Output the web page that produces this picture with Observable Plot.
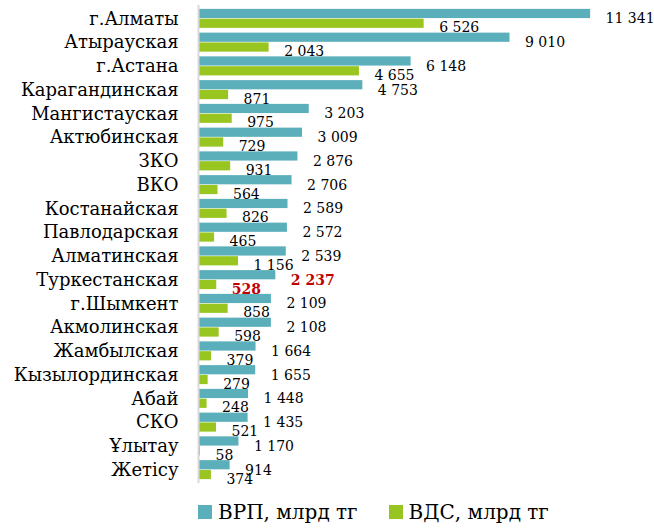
<!DOCTYPE html>
<html>
<head>
<meta charset="utf-8">
<script src="https://cdn.jsdelivr.net/npm/d3@7"></script>
<script src="https://cdn.jsdelivr.net/npm/@observablehq/plot@0.6"></script>
<style>
  html, body { margin: 0; padding: 0; background: #fff; }
  #chart { width: 654px; }
  .legend { display: flex; align-items: center; height: 33px; font-family: "DejaVu Serif", serif; font-size: 20px; color: #000; padding-left: 198px; }
  .legend .item { display: flex; align-items: center; margin-right: 31px; }
  .legend .item span { font-family: "DejaVu Serif", serif; }
  .legend .sw { width: 14px; height: 14px; margin-right: 6px; }
</style>
</head>
<body>
<div id="chart"></div>
<script>
const regions = ["г.Алматы","Атырауская","г.Астана","Карагандинская","Мангистауская","Актюбинская","ЗКО","ВКО","Костанайская","Павлодарская","Алматинская","Туркестанская","г.Шымкент","Акмолинская","Жамбылская","Кызылординская","Абай","СКО","Ұлытау","Жетісу"];
const vrp = [11341, 9010, 6148, 4753, 3203, 3009, 2876, 2706, 2589, 2572, 2539, 2237, 2109, 2108, 1664, 1655, 1448, 1435, 1170, 914];
const vds = [6526, 2043, 4655, 871, 975, 729, 931, 564, 826, 465, 1156, 528, 858, 598, 379, 279, 248, 521, 58, 374];
const seriesNames = ["ВРП, млрд тг", "ВДС, млрд тг"];
const seriesColors = ["#5aafbb", "#99c520"];
const highlight = "Туркестанская";

const fmt = d3.formatLocale({decimal: ",", thousands: " ", grouping: [3], currency: ["", ""]}).format(",d");
const rows = regions.map((r, i) => ({region: r, vrp: vrp[i], vds: vds[i]}));
const normal = rows.filter(d => d.region !== highlight);
const hi = rows.filter(d => d.region === highlight);
const font = "DejaVu Serif, serif";

const plot = Plot.plot({
  width: 654,
  height: 495,
  marginLeft: 198,
  marginRight: 10,
  marginTop: 5,
  marginBottom: 12,
  style: {fontFamily: font, background: "#fff", overflow: "visible"},
  x: {domain: [0, 12900], axis: null},
  y: {domain: regions, paddingInner: 0.2, paddingOuter: 0.163, round: false, label: null},
  marks: [
    Plot.barX(rows, {y: "region", x: "vrp", fill: seriesColors[0], insetBottom: 9.8}),
    Plot.barX(rows, {y: "region", x: "vds", fill: seriesColors[1], insetTop: 9.8}),
    Plot.ruleX([0], {stroke: "#d9d9d9", strokeWidth: 2}),
    Plot.axisY({tickSize: 0, tickPadding: 20, fontSize: 18, label: null, fill: "#000", fontFamily: font}),
    Plot.text(normal, {y: "region", x: "vrp", text: d => fmt(d.vrp), textAnchor: "start", dx: 15, dy: 0, fontSize: 14, fill: "#000", fontFamily: font}),
    Plot.text(normal, {y: "region", x: "vds", text: d => fmt(d.vds), textAnchor: "start", dx: 15, dy: 9, fontSize: 14, fill: "#000", fontFamily: font}),
    Plot.text(hi, {y: "region", x: "vrp", text: d => fmt(d.vrp), textAnchor: "start", dx: 15, dy: 0, fontSize: 14, fontWeight: "bold", fill: "#c00000", fontFamily: font}),
    Plot.text(hi, {y: "region", x: "vds", text: d => fmt(d.vds), textAnchor: "start", dx: 15, dy: 9, fontSize: 14, fontWeight: "bold", fill: "#c00000", fontFamily: font})
  ]
});
document.getElementById("chart").appendChild(plot);

const legend = document.createElement("div");
legend.className = "legend";
seriesNames.forEach((n, i) => {
  const it = document.createElement("div");
  it.className = "item";
  const sw = document.createElement("div");
  sw.className = "sw";
  sw.style.background = seriesColors[i];
  const t = document.createElement("span");
  t.textContent = n;
  it.appendChild(sw); it.appendChild(t);
  legend.appendChild(it);
});
document.getElementById("chart").appendChild(legend);
</script>
</body>
</html>
